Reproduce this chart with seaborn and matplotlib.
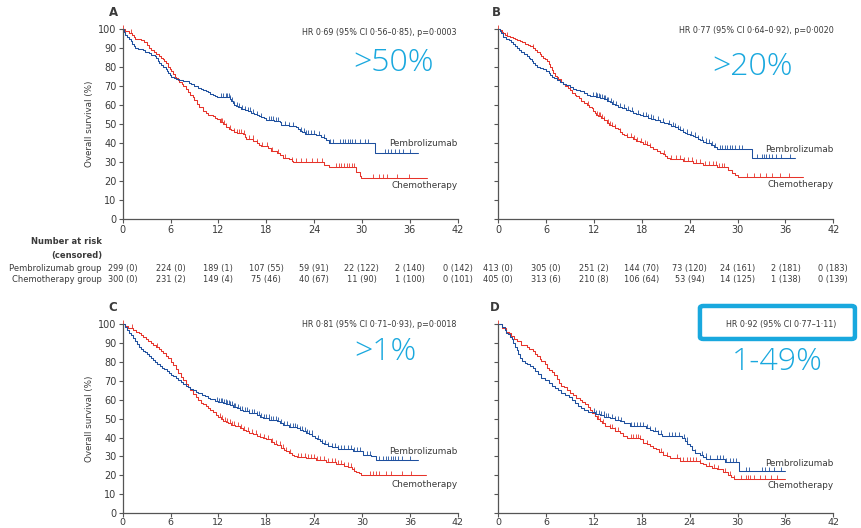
import numpy as np
import matplotlib
matplotlib.use("Agg")
import matplotlib.pyplot as plt
from matplotlib.path import Path
from matplotlib.patches import FancyBboxPatch
from matplotlib.transforms import blended_transform_factory
import seaborn as sns

# ---- data: (month, overall survival %) step points ----
# panel A (>50%)
a_pem = [(0, 100), (0.15, 98.5), (0.3, 97), (0.5, 96), (0.8, 95), (1.0, 93.5), (1.2, 92), (1.4, 91), (1.6, 90),
         (1.9, 89.5), (2.5, 89), (2.8, 88), (3.3, 87.5), (3.6, 86.5), (4.0, 86), (4.2, 84.5), (4.4, 83), (4.6, 82),
         (4.8, 81), (5.1, 80), (5.4, 79), (5.6, 78), (5.7, 77), (5.9, 76), (6.1, 75), (6.4, 74), (6.7, 73.5),
         (7.1, 73), (7.6, 72.5), (8.3, 71.5), (8.6, 71), (9.0, 70), (9.5, 69), (9.8, 68.5), (10.1, 68),
         (10.4, 67.5), (10.7, 67), (11.0, 66), (11.3, 65.5), (11.6, 64.5), (11.8, 64), (13.4, 63), (13.6, 62),
         (13.8, 61), (13.9, 60), (14.2, 59.5), (14.5, 59), (14.9, 58), (15.3, 57.5), (15.7, 57), (16.1, 56),
         (16.5, 55.5), (16.8, 55), (17.1, 54), (17.4, 53.5), (17.7, 53), (18.0, 52), (19.0, 51.5), (19.7, 51),
         (19.9, 49.5), (20.8, 49), (21.7, 48.5), (22.0, 47.5), (22.2, 46.5), (22.5, 46), (22.8, 45), (23.5, 44.5),
         (24.3, 44), (24.9, 43), (25.2, 42.5), (25.5, 41.5), (25.9, 40), (31.7, 35), (37.0, 35)]
a_chemo = [(0, 100), (0.3, 99), (0.8, 98), (1.2, 97), (1.4, 96), (1.6, 95), (2.0, 94.5), (2.3, 94), (2.7, 93),
           (3.0, 91.5), (3.3, 90), (3.6, 89), (3.9, 88), (4.2, 87), (4.6, 86), (4.8, 85), (5.0, 84), (5.2, 83),
           (5.4, 82), (5.7, 80), (5.9, 79), (6.1, 78), (6.3, 76.5), (6.5, 75), (6.7, 74), (6.9, 73), (7.1, 72),
           (7.4, 71), (7.6, 70), (7.9, 68.5), (8.2, 67), (8.5, 65.5), (8.8, 64), (9.0, 62.5), (9.3, 60.5),
           (9.6, 59), (10.1, 57), (10.4, 56), (10.7, 55), (11.3, 54), (11.6, 53), (11.8, 52.5), (12.2, 51),
           (12.6, 50), (13.0, 48.5), (13.3, 47.5), (13.6, 47), (14.0, 46), (14.3, 45.5), (15.1, 44.5), (15.3, 43),
           (15.5, 42), (16.4, 41), (16.8, 40), (17.1, 39), (17.4, 38.5), (18.2, 37.5), (18.6, 36), (19.3, 35),
           (19.7, 33.5), (20.1, 32), (20.9, 31.5), (21.2, 30.5), (21.4, 30), (25.3, 28.5), (25.9, 27.5),
           (29.2, 24.5), (29.7, 22.5), (29.9, 21.5), (38.1, 21.5)]
a_pem_cens = [12.3, 12.6, 12.9, 13.1, 13.3, 13.5, 13.7, 14.0, 14.3, 14.6, 15.0, 15.3, 15.7, 16.0, 16.4, 16.9, 17.4,
              18.3, 18.6, 18.9, 19.2, 19.5, 20.3, 20.8, 21.3, 22.4, 22.7, 23.0, 23.3, 23.6, 24.0, 24.6, 25.3, 26.0,
              26.4, 27.3, 27.6, 27.9, 28.2, 28.5, 28.8, 29.1, 29.8, 30.4, 30.7, 32.9, 33.3, 33.7, 34.1, 34.6, 35.1,
              36.0]
a_chemo_cens = [0.0, 1.0, 12.3, 12.5, 12.7, 13.0, 13.5, 14.0, 14.3, 14.6, 14.9, 15.2, 15.8, 16.3, 16.8, 17.5,
                18.1, 18.7, 19.5, 20.3, 21.2, 21.7, 22.4, 23.0, 23.7, 24.4, 25.0, 26.8, 27.1, 27.4, 27.8, 28.1,
                28.4, 28.7, 29.0, 31.4, 32.1, 32.6, 33.2, 34.4, 35.9]

# panel B (>20%)
b_pem = [(0, 100), (0.15, 99), (0.3, 98), (0.6, 96), (0.9, 95), (1.3, 94), (1.6, 93), (1.9, 92), (2.1, 91),
         (2.4, 90), (2.6, 89), (2.9, 88), (3.2, 87), (3.6, 86), (3.8, 85), (4.0, 84), (4.2, 83), (4.4, 82),
         (4.6, 81), (4.8, 80), (5.2, 79.5), (5.6, 79), (6.0, 78), (6.3, 77), (6.5, 76), (6.7, 75), (7.0, 74),
         (7.3, 73), (7.7, 72), (8.1, 71), (8.5, 70.5), (9.0, 69.5), (9.4, 68.5), (9.8, 68), (10.2, 67.5),
         (10.7, 66.5), (11.1, 65.5), (11.5, 65), (11.9, 64.5), (12.3, 64), (12.8, 63.5), (13.2, 63), (13.6, 62),
         (14.0, 61.5), (14.3, 60.5), (14.6, 60), (15.0, 59), (15.5, 58.5), (16.0, 57.5), (16.5, 57), (16.9, 56),
         (17.3, 55.5), (17.8, 54.5), (18.2, 54), (18.8, 53), (19.2, 52.5), (19.6, 52), (20.3, 51), (20.8, 50.5),
         (21.3, 50), (21.7, 49), (22.1, 48.5), (22.5, 47.5), (22.8, 47), (23.1, 46), (23.4, 45.5), (23.7, 44.5),
         (24.0, 44), (24.4, 43.5), (24.7, 43), (25.0, 42), (25.3, 41.5), (25.7, 40.5), (26.1, 40), (26.7, 39),
         (27.0, 38), (27.4, 37), (31.8, 32), (37.2, 32)]
b_chemo = [(0, 100), (0.2, 99.5), (0.4, 98.5), (0.6, 98), (0.8, 97), (1.1, 96.5), (1.5, 96), (1.8, 95.5),
           (2.1, 95), (2.4, 94), (2.7, 93.5), (3.0, 93), (3.3, 92), (3.7, 91.5), (4.0, 91), (4.3, 90), (4.6, 89),
           (4.9, 88), (5.2, 87), (5.4, 86), (5.6, 85), (5.9, 84), (6.1, 83), (6.3, 81.5), (6.5, 80), (6.7, 78.5),
           (6.9, 77), (7.1, 75.5), (7.3, 74.5), (7.5, 73.5), (7.8, 72), (8.1, 71), (8.4, 70), (8.7, 69), (9.0, 68),
           (9.3, 66.5), (9.6, 65.5), (9.8, 65), (10.1, 63.5), (10.4, 62), (10.8, 61), (11.1, 60), (11.4, 59),
           (11.7, 58.5), (11.9, 57), (12.1, 56), (12.3, 55), (12.5, 54), (12.9, 53), (13.2, 52), (13.6, 50.5),
           (13.9, 49.5), (14.2, 49), (14.6, 48), (15.0, 47.5), (15.3, 46), (15.5, 45), (15.8, 44), (16.1, 43),
           (16.9, 42), (17.3, 41), (17.8, 40.5), (18.2, 39.5), (18.6, 39), (19.0, 38), (19.4, 37), (19.9, 36),
           (20.3, 35), (20.6, 34), (20.9, 33), (21.2, 32), (21.5, 31.5), (23.2, 30.5), (24.4, 29.5), (25.7, 28.5),
           (27.4, 27.5), (28.8, 26), (29.3, 24), (29.7, 23), (30.1, 22), (38.2, 22)]
b_pem_cens = [11.9, 12.2, 12.4, 12.6, 12.8, 13.0, 13.2, 13.4, 13.6, 13.8, 14.1, 14.4, 14.8, 15.3, 15.8, 16.2, 16.8,
              17.5, 18.2, 18.5, 18.8, 19.1, 19.4, 20.0, 20.7, 21.4, 21.9, 22.2, 22.5, 22.8, 23.2, 23.6, 24.2, 24.6,
              25.0, 25.5, 26.0, 26.4, 26.8, 27.2, 27.8, 28.1, 28.4, 28.7, 29.0, 29.3, 29.7, 30.2, 30.6, 32.4, 33.0,
              33.3, 33.6, 33.9, 34.3, 34.8, 35.5, 36.6]
b_chemo_cens = [0.0, 1.1, 4.4, 11.3, 12.4, 12.6, 12.8, 13.0, 13.3, 13.7, 14.0, 14.3, 14.6, 15.3, 16.1, 16.6, 17.0,
                17.4, 17.9, 18.4, 18.7, 19.0, 20.8, 21.6, 22.3, 22.8, 23.3, 23.8, 24.3, 24.8, 25.3, 25.9, 26.4,
                26.9, 27.3, 27.7, 28.0, 28.3, 31.2, 32.0, 32.8, 33.5, 34.3, 35.3, 36.5]

# panel C (>1%)
c_pem = [(0, 100), (0.25, 98.5), (0.5, 97), (0.75, 95.5), (1.0, 94), (1.25, 92.5), (1.5, 91), (1.75, 89.5),
         (2.0, 88), (2.25, 87), (2.5, 86), (2.75, 85), (3.0, 84), (3.25, 83), (3.5, 82), (3.75, 81), (4.0, 80),
         (4.35, 79), (4.7, 78), (4.95, 77), (5.2, 76), (5.5, 75), (5.8, 74), (6.05, 73), (6.3, 72.5), (6.65, 71.5),
         (7.0, 70.5), (7.3, 69.5), (7.6, 68.5), (7.9, 67.5), (8.2, 66.5), (8.5, 65.5), (8.8, 65), (9.15, 64),
         (9.5, 63.5), (9.9, 62.5), (10.3, 62), (10.65, 61), (11.0, 60.5), (11.6, 59.5), (12.0, 59), (12.6, 58.5),
         (13.0, 57.5), (13.4, 57), (13.8, 56), (14.3, 55.5), (14.7, 54.5), (15.1, 54), (15.9, 53), (16.8, 52),
         (17.2, 51), (17.6, 50.5), (18.4, 49.5), (19.3, 48.5), (19.7, 47.5), (20.1, 46.5), (20.9, 45.5), (21.8, 45),
         (22.2, 44), (22.6, 43.5), (23.0, 42.5), (23.4, 42), (23.8, 41), (24.1, 40), (24.4, 39), (24.7, 38),
         (25.0, 37), (25.3, 36.5), (25.7, 35.5), (26.2, 35), (27.0, 34), (28.9, 33), (30.1, 31), (31.2, 30),
         (31.8, 28), (37.0, 28)]
c_chemo = [(0, 100), (0.35, 99), (0.7, 98), (1.3, 97), (1.65, 96), (2.0, 95), (2.3, 94), (2.6, 93), (2.9, 92),
           (3.2, 91), (3.5, 90), (3.8, 89), (4.15, 88), (4.5, 87), (4.8, 85.5), (5.1, 84.5), (5.4, 83), (5.7, 82),
           (6.0, 80), (6.3, 78.5), (6.65, 76), (7.0, 74), (7.3, 72), (7.6, 70.5), (7.9, 68.5), (8.2, 66.5),
           (8.5, 65), (8.8, 63), (9.15, 61.5), (9.5, 60), (9.8, 58.5), (10.1, 57.5), (10.4, 56.5), (10.7, 55.5),
           (11.0, 54.5), (11.3, 53.5), (11.65, 52), (12.0, 51), (12.3, 50), (12.6, 49), (12.9, 48), (13.2, 47.5),
           (13.6, 46.5), (14.1, 46), (14.7, 45), (15.1, 44), (15.5, 43.5), (15.9, 42.5), (16.4, 42), (16.8, 41),
           (17.2, 40.5), (17.6, 39.5), (18.0, 39), (18.6, 37.5), (19.0, 36.5), (19.3, 36), (19.9, 34.5),
           (20.2, 33.5), (20.5, 33), (20.9, 32), (21.2, 31), (21.5, 30), (21.8, 29.5), (23.0, 29), (24.3, 28),
           (25.5, 27), (26.8, 26), (27.8, 25), (28.3, 24.5), (28.7, 23.5), (29.0, 22.5), (29.3, 22), (29.6, 21),
           (29.9, 20), (38.0, 20)]
c_pem_cens = [11.8, 12.1, 12.3, 12.5, 12.7, 12.9, 13.1, 13.3, 13.5, 13.7, 13.9, 14.1, 14.4, 14.7, 15.0, 15.3, 15.6,
              15.9, 16.2, 16.5, 16.8, 17.1, 17.4, 17.7, 18.0, 18.3, 18.6, 18.9, 19.2, 19.5, 19.8, 20.2, 20.6, 21.0,
              21.3, 21.6, 21.9, 22.2, 22.5, 22.8, 23.1, 23.4, 23.7, 24.5, 25.0, 25.4, 25.8, 26.2, 26.6, 27.0, 27.4,
              27.8, 28.2, 28.6, 29.0, 29.4, 29.8, 30.6, 31.0, 32.2, 32.6, 33.0, 33.3, 33.6, 33.9, 34.2, 34.5, 35.0,
              36.0]
c_chemo_cens = [0.0, 1.2, 4.3, 12.2, 12.5, 12.8, 13.1, 13.4, 13.7, 14.0, 14.4, 14.8, 15.2, 15.7, 16.2, 16.7, 17.2,
                17.7, 18.2, 18.7, 19.2, 19.7, 20.1, 20.5, 21.0, 22.0, 22.4, 22.8, 23.2, 23.6, 24.0, 24.4, 24.8,
                25.3, 25.8, 26.2, 26.6, 27.0, 27.4, 27.8, 28.2, 28.6, 29.0, 31.0, 31.4, 31.8, 32.2, 33.0, 33.6,
                35.0, 36.1]

# panel D (1-49%)
d_pem = [(0, 100), (0.4, 98.5), (0.8, 97), (1.0, 95.5), (1.25, 94.5), (1.5, 93), (1.7, 92), (1.9, 90), (2.1, 88),
         (2.3, 86.5), (2.5, 84), (2.7, 82), (3.0, 80.5), (3.3, 79.5), (3.6, 79), (4.0, 78), (4.3, 76.5), (4.6, 75),
         (5.0, 73.5), (5.4, 71.5), (5.8, 70.5), (6.3, 69), (6.7, 67.5), (7.1, 66), (7.5, 65), (7.9, 63.5),
         (8.3, 62.5), (8.8, 61.5), (9.2, 60), (9.6, 58), (10.0, 56.5), (10.4, 55.5), (10.8, 54.5), (11.3, 53.3),
         (12.1, 52.5), (12.7, 52), (13.3, 51), (14.0, 50.5), (14.6, 49.5), (15.2, 48.6), (15.8, 47.5), (16.5, 46),
         (18.5, 45), (19.0, 44), (19.4, 43.3), (20.0, 42), (20.5, 40.7), (23.0, 39.5), (23.4, 38), (23.7, 36.5),
         (24.0, 35.4), (24.3, 33.5), (24.6, 32), (25.3, 31), (25.7, 29.5), (26.1, 28.4), (28.4, 27), (30.2, 22.3),
         (36.0, 22.3)]
d_chemo = [(0, 100), (0.5, 98), (1.0, 96), (1.3, 95), (1.6, 93.5), (2.0, 92), (2.3, 91), (2.9, 89), (3.6, 88),
           (3.9, 87), (4.3, 85.5), (4.6, 84), (4.9, 83), (5.2, 81.5), (5.4, 80.5), (5.8, 79), (6.1, 77), (6.4, 75.5),
           (6.7, 74.5), (7.0, 73), (7.3, 71), (7.6, 69), (7.9, 67.5), (8.2, 66.5), (8.6, 65), (9.0, 63.5),
           (9.4, 62.5), (9.8, 61), (10.2, 60), (10.5, 59), (10.9, 57.5), (11.2, 56), (11.5, 54.5), (11.8, 53),
           (12.1, 51.5), (12.4, 50), (12.7, 48.6), (13.0, 47.5), (13.4, 46), (14.0, 45), (14.6, 43.5), (15.2, 42.5),
           (15.6, 41), (16.1, 40), (17.8, 39), (18.2, 37.2), (18.6, 36.5), (19.0, 35.4), (19.4, 34.5), (19.8, 33.7),
           (20.2, 32.5), (20.7, 31), (21.1, 30), (21.5, 29.3), (22.8, 27.5), (25.3, 26.7), (25.7, 25.8), (26.1, 25),
           (26.8, 24), (27.4, 23.2), (28.2, 21.8), (28.8, 20), (29.2, 19), (29.5, 18.2), (36.0, 18.2)]
d_pem_cens = [12.0, 12.3, 12.6, 12.9, 13.2, 13.5, 13.8, 14.2, 14.6, 15.0, 15.4, 16.6, 17.0, 17.4, 17.8, 18.2, 18.6,
              19.0, 19.6, 20.0, 20.4, 21.4, 21.8, 22.2, 22.6, 23.3, 23.6, 24.6, 25.6, 26.0, 26.6, 27.4, 27.8, 28.2,
              28.6, 29.0, 29.4, 29.8, 31.0, 31.4, 33.0, 33.4, 34.0, 34.6, 35.4]
d_chemo_cens = [0.0, 12.5, 12.8, 13.1, 14.0, 14.3, 14.6, 15.0, 16.6, 16.9, 17.2, 17.5, 17.8, 18.6, 20.4, 20.7,
                21.2, 22.4, 22.8, 23.2, 23.6, 24.0, 24.4, 24.8, 25.3, 26.4, 27.0, 27.6, 28.4, 29.0, 29.5, 30.4,
                31.0, 31.3, 31.6, 32.0, 32.8, 33.4, 34.2, 35.0]

# number at risk (censored) for panels A and B
risk_times = [0, 6, 12, 18, 24, 30, 36, 42]
a_pem_risk = [299, 224, 189, 107, 59, 22, 2, 0]
a_pem_cens_n = [0, 0, 1, 55, 91, 122, 140, 142]
a_chemo_risk = [300, 231, 149, 75, 40, 11, 1, 0]
a_chemo_cens_n = [0, 2, 4, 46, 67, 90, 100, 101]
b_pem_risk = [413, 305, 251, 144, 73, 24, 2, 0]
b_pem_cens_n = [0, 0, 2, 70, 120, 161, 181, 183]
b_chemo_risk = [405, 313, 210, 106, 53, 14, 1, 0]
b_chemo_cens_n = [0, 6, 8, 64, 94, 125, 138, 139]

hr_texts = ["HR 0\u00b769 (95% CI 0\u00b756\u20130\u00b785), p=0\u00b70003",
            "HR 0\u00b777 (95% CI 0\u00b764\u20130\u00b792), p=0\u00b70020",
            "HR 0\u00b781 (95% CI 0\u00b771\u20130\u00b793), p=0\u00b70018",
            "HR 0\u00b792 (95% CI 0\u00b777\u20131\u00b711)"]
big_labels = [">50%", ">20%", ">1%", "1-49%"]
panel_letters = ["A", "B", "C", "D"]

BLUE = "#1d4f9e"
RED = "#e6332a"
CYAN = "#19a8de"
TXT = "#3a3a3a"
AX = "#555555"

sns.set_style("ticks")
plt.rcParams["font.family"] = ["Liberation Sans Narrow", "DejaVu Sans"]
plt.rcParams["text.color"] = TXT

# upward censor tick
TICK = Path([(0, 0), (0, 1)], [Path.MOVETO, Path.LINETO])


def draw_km(ax, pts, cens, color):
    t, s = np.array(pts, dtype=float).T
    sns.lineplot(x=t, y=s, ax=ax, color=color, lw=0.75, drawstyle="steps-post",
                 estimator=None, sort=False, clip_on=False)
    idx = np.searchsorted(t, cens, side="right") - 1
    ax.plot(cens, s[idx], ls="none", marker=TICK, ms=5.5, mew=0.6, color=color, clip_on=False)


fig = plt.figure(figsize=(8.62, 5.28), dpi=100)
boxes = [[0.1423, 0.5852, 0.3886, 0.3598], [0.5781, 0.5852, 0.3886, 0.3598],
         [0.1423, 0.0280, 0.3886, 0.3583], [0.5781, 0.0280, 0.3886, 0.3583]]
axes = [fig.add_axes(b) for b in boxes]

curves = [(a_pem, a_pem_cens, a_chemo, a_chemo_cens),
          (b_pem, b_pem_cens, b_chemo, b_chemo_cens),
          (c_pem, c_pem_cens, c_chemo, c_chemo_cens),
          (d_pem, d_pem_cens, d_chemo, d_chemo_cens)]
label_y = [(39.8, 17.9), (36.8, 18.2), (32.8, 15.3), (26.3, 14.7)]
hr_pos = [(41.9, 98.4), (42.1, 99.0), (41.9, 100.0), (42.4, 100.0)]
big_pos = [(33.9, 82), (31.9, 80), (32.9, 85), (35.0, 80)]
letter_pos = [(0.1311, 0.9754), (0.5754, 0.9754), (0.1311, 0.4167), (0.5742, 0.4167)]

for i, ax in enumerate(axes):
    pem, pem_c, chemo, chemo_c = curves[i]
    draw_km(ax, chemo, chemo_c, RED)
    draw_km(ax, pem, pem_c, BLUE)
    ax.set_xlim(0, 42)
    ax.set_ylim(0, 100)
    ax.set_xticks(range(0, 43, 6))
    ax.set_yticks(range(0, 101, 10))
    sns.despine(ax=ax)
    for sp in ["left", "bottom"]:
        ax.spines[sp].set_color(AX)
        ax.spines[sp].set_linewidth(0.9)
    ax.tick_params(colors=AX, labelcolor=TXT, labelsize=7, length=3, width=0.8, pad=1.5)
    if i >= 2:
        ax.tick_params(axis="x", pad=0.5, labelsize=6.8)
    ax.set_xlabel("")
    if i in (0, 2):
        ax.set_ylabel("Overall survival (%)", fontsize=6.3, labelpad=3, color=TXT)
    else:
        ax.set_ylabel("")
        ax.tick_params(axis="y", labelleft=False)
    ax.text(42, label_y[i][0], "Pembrolizumab", ha="right", va="center", fontsize=6.4)
    ax.text(42, label_y[i][1], "Chemotherapy", ha="right", va="center", fontsize=6.4)
    ax.text(hr_pos[i][0], hr_pos[i][1], hr_texts[i], ha="right", va="center", fontsize=5.8)
    ax.text(big_pos[i][0], big_pos[i][1], big_labels[i], ha="center", va="center",
            fontsize=23, color=CYAN, family=["Open Sans", "DejaVu Sans"], fontweight="light")
    fig.text(letter_pos[i][0], letter_pos[i][1], panel_letters[i], ha="center", va="center",
             fontsize=8.5, fontweight="bold")

# highlight box in panel D
fig.add_artist(FancyBboxPatch((0.812, 0.358), 0.1798, 0.0625, boxstyle="round,pad=0,rounding_size=0.004",
                              transform=fig.transFigure, fill=False, edgecolor=CYAN, lw=3.2))

# number at risk table
row_y = [0.4924, 0.4697]
fig.text(0.1183, 0.5417, "Number at risk", ha="right", va="center", fontsize=6.0, fontweight="bold")
fig.text(0.1183, 0.5170, "(censored)", ha="right", va="center", fontsize=6.0, fontweight="bold")
fig.text(0.1183, row_y[0], "Pembrolizumab group", ha="right", va="center", fontsize=6.0)
fig.text(0.1183, row_y[1], "Chemotherapy group", ha="right", va="center", fontsize=6.0)
tables = [(axes[0], a_pem_risk, a_pem_cens_n, a_chemo_risk, a_chemo_cens_n),
          (axes[1], b_pem_risk, b_pem_cens_n, b_chemo_risk, b_chemo_cens_n)]
for ax, pr, pcn, cr, ccn in tables:
    tr = blended_transform_factory(ax.transData, fig.transFigure)
    for k, t in enumerate(risk_times):
        fig.text(t, row_y[0], f"{pr[k]} ({pcn[k]})", transform=tr, ha="center", va="center", fontsize=5.9)
        fig.text(t, row_y[1], f"{cr[k]} ({ccn[k]})", transform=tr, ha="center", va="center", fontsize=5.9)

fig.savefig("out.png", dpi=100)
